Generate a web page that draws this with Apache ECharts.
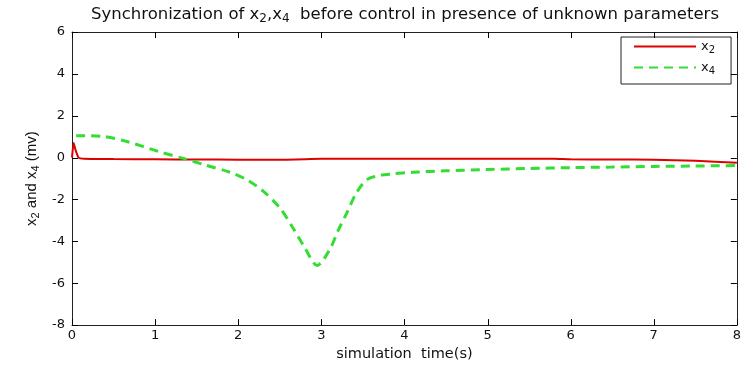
<!DOCTYPE html>
<html><head><meta charset="utf-8">
<script src="https://cdn.jsdelivr.net/npm/echarts@6/dist/echarts.min.js"></script>
<style>html,body{margin:0;padding:0;background:#fff}#c{width:744px;height:367px}</style>
</head><body><div id="c"></div>
<script>
var xTicks = [0,1,2,3,4,5,6,7,8];
var yTicks = [-8,-6,-4,-2,0,2,4,6];
var x2Time = [0, 0.02, 0.04, 0.08, 0.15, 0.5, 1, 1.5, 2, 2.5, 3, 3.5, 4, 5, 5.8, 6, 6.5, 7, 7.5, 8];
var x2Vals = [0, 0.7, 0.4, 0.0, -0.05, -0.07, -0.08, -0.09, -0.1, -0.1, -0.06, -0.05, -0.05, -0.05, -0.06, -0.08, -0.09, -0.1, -0.15, -0.25];
var x4Time = [0.05, 0.35, 0.65, 1.05, 1.35, 1.6, 1.9, 2.1, 2.3, 2.5, 2.65, 2.8, 2.95, 3.1, 3.2, 3.3, 3.42, 3.55, 3.7, 3.85, 4.1, 4.5, 5, 5.5, 6, 6.5, 7, 7.5, 8];
var x4Vals = [1.05, 1.02, 0.78, 0.28, -0.05, -0.35, -0.7, -1.05, -1.6, -2.4, -3.3, -4.3, -5.15, -4.4, -3.5, -2.7, -1.7, -1.05, -0.85, -0.78, -0.7, -0.63, -0.57, -0.52, -0.48, -0.45, -0.42, -0.4, -0.38];

function pairs(t, v){ return t.map(function(x,i){ return [x, v[i]]; }); }
var font = 'DejaVu Sans, Liberation Sans, Arial, sans-serif';
var lib = 'Liberation Sans, Arial, sans-serif';
var sub = {
  a:{fontFamily:font,fontSize:16.5,color:'#111',fontWeight:'normal'},
  s:{fontFamily:font,fontSize:12,color:'#111',fontWeight:'normal',padding:[8,0,0,0]}
};
var lsub = {
  a:{fontFamily:font,fontSize:13,color:'#111'},
  s:{fontFamily:font,fontSize:10,color:'#111',padding:[7,0,0,0]}
};
function line(){ return {show:true, onZero:false, lineStyle:{color:'#222', width:1}}; }
var TL = 6;
var tickStyle = {stroke:'#000', lineWidth:1};
var xMin = xTicks[0], xMax = xTicks[xTicks.length-1];
var yMin = yTicks[0], yMax = yTicks[yTicks.length-1];

var chart = echarts.init(document.getElementById('c'), null, {renderer:'canvas'});
chart.setOption({
  animation:false,
  title:{
    text:'{a|Synchronization of x}{s|2}{a|,x}{s|4}{a|  before control in presence of unknown parameters}',
    left:400, textAlign:'center', top:0,
    textStyle:{rich:sub, fontWeight:'normal'}
  },
  grid:{left:72, right:6, top:32, bottom:38},
  legend:{
    left:621, top:37, orient:'vertical', itemWidth:62, itemHeight:12, itemGap:6,
    backgroundColor:'#fff', borderColor:'#222', borderWidth:1, padding:[3,16,8,12],
    itemStyle:{opacity:0},
    data:['x2','x4'],
    formatter:function(n){ return '{a|x}{s|' + n.slice(1) + '}'; },
    textStyle:{rich:lsub}
  },
  xAxis:[{
    type:'value', min:xMin, max:xMax, interval:1,
    name:'simulation  time(s)', nameLocation:'middle', nameGap:20,
    nameTextStyle:{fontFamily:font, fontSize:14.5, color:'#111'},
    axisLine:line(), axisTick:{show:false},
    axisLabel:{fontFamily:font, fontSize:13, color:'#111', margin:4},
    splitLine:{show:false}
  },{
    type:'value', min:xMin, max:xMax, interval:1, position:'top',
    axisLine:line(), axisTick:{show:false}, axisLabel:{show:false}, splitLine:{show:false}
  }],
  yAxis:[{
    type:'value', min:yMin, max:yMax, interval:2,
    name:'{a|x}{s|2}{a| and x}{s|4}{a| (mv)}', nameLocation:'middle', nameGap:27,
    nameTextStyle:{rich:{
      a:{fontFamily:lib,fontSize:15,color:'#111'},
      s:{fontFamily:lib,fontSize:11,color:'#111',padding:[7,0,0,0]}
    }},
    axisLine:line(), axisTick:{show:false},
    axisLabel:{fontFamily:font, fontSize:13, color:'#111', margin:7},
    splitLine:{show:false}
  },{
    type:'value', min:yMin, max:yMax, interval:2, position:'right',
    axisLine:line(), axisTick:{show:false}, axisLabel:{show:false}, splitLine:{show:false}
  }],
  series:[{
    name:'x2', type:'line', data:pairs(x2Time, x2Vals), showSymbol:false, symbol:'none',
    smooth:0.2, lineStyle:{color:'#dd0000', width:2}, itemStyle:{color:'#dd0000'}
  },{
    name:'x4', type:'line', data:pairs(x4Time, x4Vals), showSymbol:false, symbol:'none',
    smooth:0.3, lineStyle:{color:'#33dd33', width:3, type:[9,6]}, itemStyle:{color:'#33dd33'}
  },{
    name:'xticks', type:'custom', silent:true, clip:false, z:10,
    data:xTicks.map(function(t){ return [t]; }),
    encode:{x:0},
    renderItem:function(params, api){
      var t = api.value(0);
      var b = api.coord([t, yMin]), tp = api.coord([t, yMax]);
      var px = Math.round(b[0]) + 0.5;
      return {type:'group', children:[
        {type:'line', shape:{x1:px, y1:b[1], x2:px, y2:b[1]-TL}, style:tickStyle},
        {type:'line', shape:{x1:px, y1:tp[1], x2:px, y2:tp[1]+TL}, style:tickStyle}
      ]};
    }
  },{
    name:'yticks', type:'custom', silent:true, clip:false, z:10,
    data:yTicks.map(function(v){ return [xMin, v]; }),
    encode:{x:0, y:1},
    renderItem:function(params, api){
      var v = api.value(1);
      var l = api.coord([xMin, v]), r = api.coord([xMax, v]);
      var py = Math.round(l[1]) + 0.5;
      return {type:'group', children:[
        {type:'line', shape:{x1:l[0], y1:py, x2:l[0]+TL, y2:py}, style:tickStyle},
        {type:'line', shape:{x1:r[0], y1:py, x2:r[0]-TL, y2:py}, style:tickStyle}
      ]};
    }
  }]
});
</script></body></html>
